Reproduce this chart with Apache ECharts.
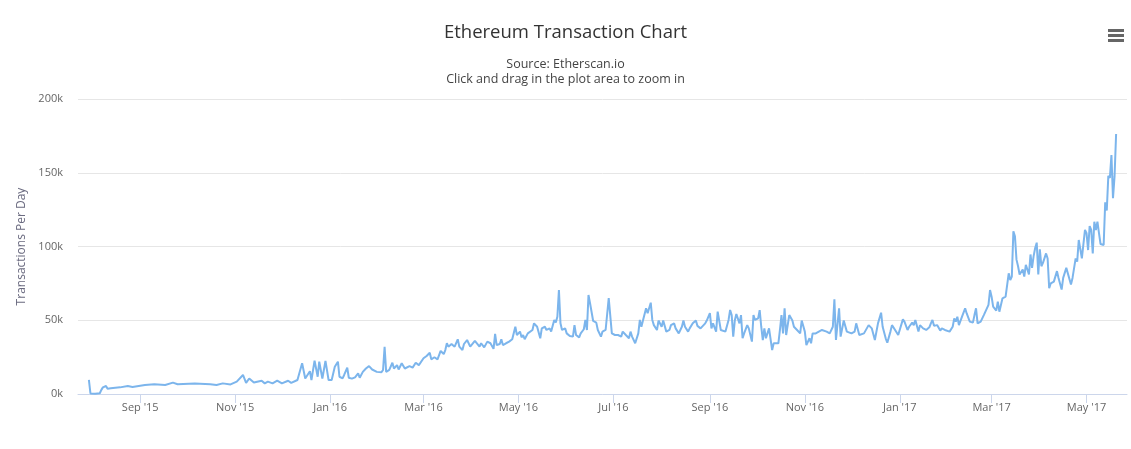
<!DOCTYPE html>
<html>
<head>
<meta charset="utf-8">
<script src="https://cdn.jsdelivr.net/npm/echarts@6/dist/echarts.min.js"></script>
<style>
  html, body { margin: 0; padding: 0; background: #fff; }
  #chart { width: 1131px; height: 449px; }
</style>
</head>
<body>
<div id="chart"></div>
<script>
// Daily transactions (thousands)
const dates = [
'2015-07-30','2015-07-31','2015-08-03','2015-08-06','2015-08-07','2015-08-08','2015-08-10','2015-08-11','2015-08-13','2015-08-19',
'2015-08-24','2015-08-27','2015-09-04','2015-09-10','2015-09-17','2015-09-22','2015-09-25','2015-10-06','2015-10-16','2015-10-20',
'2015-10-24','2015-10-29','2015-11-02','2015-11-06','2015-11-08','2015-11-10','2015-11-13','2015-11-18','2015-11-20','2015-11-22',
'2015-11-25','2015-11-28','2015-12-01','2015-12-05','2015-12-07','2015-12-11','2015-12-12','2015-12-14','2015-12-16','2015-12-19',
'2015-12-20','2015-12-22','2015-12-24','2015-12-25','2015-12-27','2015-12-29','2015-12-31',
'2016-01-02','2016-01-04','2016-01-06','2016-01-07','2016-01-09','2016-01-10','2016-01-12','2016-01-13','2016-01-15','2016-01-17',
'2016-01-19','2016-01-20','2016-01-22','2016-01-24','2016-01-26','2016-01-28','2016-01-31','2016-02-03','2016-02-04','2016-02-05',
'2016-02-06','2016-02-08','2016-02-10','2016-02-11','2016-02-13','2016-02-14','2016-02-16','2016-02-18','2016-02-21','2016-02-23',
'2016-02-25','2016-02-27','2016-03-01','2016-03-03','2016-03-05','2016-03-06','2016-03-08','2016-03-10','2016-03-12','2016-03-14',
'2016-03-15','2016-03-16','2016-03-17','2016-03-19','2016-03-21','2016-03-23','2016-03-24','2016-03-26','2016-03-27','2016-03-29',
'2016-03-31','2016-04-03','2016-04-04','2016-04-06','2016-04-07','2016-04-09','2016-04-11','2016-04-13','2016-04-15','2016-04-16',
'2016-04-17','2016-04-19','2016-04-20','2016-04-21','2016-04-23','2016-04-25','2016-04-27','2016-04-29','2016-04-30','2016-05-02',
'2016-05-03','2016-05-04','2016-05-05','2016-05-07','2016-05-08','2016-05-10','2016-05-11','2016-05-13','2016-05-15','2016-05-16',
'2016-05-18','2016-05-19','2016-05-21','2016-05-22','2016-05-24','2016-05-25','2016-05-26','2016-05-27','2016-05-28','2016-05-29',
'2016-05-31','2016-06-01','2016-06-03','2016-06-05','2016-06-06','2016-06-07','2016-06-09','2016-06-10','2016-06-12','2016-06-13',
'2016-06-14','2016-06-15','2016-06-16','2016-06-18','2016-06-20','2016-06-21','2016-06-22','2016-06-23','2016-06-24','2016-06-26',
'2016-06-28','2016-06-30','2016-07-02','2016-07-04','2016-07-06','2016-07-07','2016-07-09','2016-07-11','2016-07-12','2016-07-13',
'2016-07-15','2016-07-17','2016-07-18','2016-07-19','2016-07-20','2016-07-22','2016-07-23','2016-07-25','2016-07-26','2016-07-27',
'2016-07-29','2016-07-30','2016-08-01','2016-08-02','2016-08-04','2016-08-06','2016-08-07','2016-08-09','2016-08-10','2016-08-12',
'2016-08-14','2016-08-15','2016-08-16','2016-08-18','2016-08-19','2016-08-21','2016-08-23','2016-08-24','2016-08-26','2016-08-29',
'2016-08-30','2016-09-01','2016-09-02','2016-09-03','2016-09-05','2016-09-06','2016-09-08','2016-09-09','2016-09-11','2016-09-13',
'2016-09-14','2016-09-15','2016-09-16','2016-09-17','2016-09-18','2016-09-20','2016-09-21','2016-09-22','2016-09-23','2016-09-25',
'2016-09-26','2016-09-28','2016-09-29','2016-09-30','2016-10-02','2016-10-03','2016-10-04','2016-10-05','2016-10-06','2016-10-07',
'2016-10-09','2016-10-11','2016-10-12','2016-10-13','2016-10-15','2016-10-16','2016-10-17','2016-10-18','2016-10-19','2016-10-20',
'2016-10-22','2016-10-24','2016-10-25','2016-10-27','2016-10-29','2016-10-30','2016-11-01','2016-11-02','2016-11-04','2016-11-05',
'2016-11-06','2016-11-08','2016-11-10','2016-11-12','2016-11-13','2016-11-15','2016-11-17','2016-11-19','2016-11-20','2016-11-21',
'2016-11-23','2016-11-24','2016-11-26','2016-11-28','2016-12-01','2016-12-03','2016-12-04','2016-12-06','2016-12-07','2016-12-09',
'2016-12-12','2016-12-14','2016-12-16','2016-12-18','2016-12-20','2016-12-21','2016-12-23','2016-12-24','2016-12-26','2016-12-27',
'2016-12-29','2016-12-31',
'2017-01-01','2017-01-03','2017-01-04','2017-01-06','2017-01-07','2017-01-09','2017-01-10','2017-01-11','2017-01-13','2017-01-14',
'2017-01-16','2017-01-17','2017-01-18','2017-01-20','2017-01-21','2017-01-22','2017-01-23','2017-01-25','2017-01-27','2017-01-28',
'2017-01-30','2017-01-31','2017-02-02','2017-02-04','2017-02-05','2017-02-06','2017-02-07','2017-02-08','2017-02-10','2017-02-12',
'2017-02-13','2017-02-15','2017-02-17','2017-02-18','2017-02-19','2017-02-20','2017-02-22','2017-02-24','2017-02-25','2017-02-27',
'2017-02-28','2017-03-01','2017-03-02','2017-03-04','2017-03-05','2017-03-06','2017-03-08','2017-03-10','2017-03-11','2017-03-12',
'2017-03-13','2017-03-14','2017-03-15','2017-03-16','2017-03-17','2017-03-18','2017-03-19','2017-03-21','2017-03-22','2017-03-23',
'2017-03-24','2017-03-25','2017-03-26','2017-03-27','2017-03-28','2017-03-29','2017-03-30','2017-03-31','2017-04-01','2017-04-02',
'2017-04-03','2017-04-04','2017-04-05','2017-04-06','2017-04-07','2017-04-08','2017-04-10','2017-04-12','2017-04-13','2017-04-15',
'2017-04-16','2017-04-18','2017-04-19','2017-04-21','2017-04-22','2017-04-24','2017-04-25','2017-04-26','2017-04-27','2017-04-28',
'2017-04-30','2017-05-01','2017-05-02','2017-05-03','2017-05-04','2017-05-05','2017-05-06','2017-05-07','2017-05-08','2017-05-09',
'2017-05-10','2017-05-12','2017-05-13','2017-05-14','2017-05-15','2017-05-16','2017-05-17','2017-05-18','2017-05-19','2017-05-20'
];
const txK = [
9.5,0.4,0.2,0.5,2.8,4.5,5.4,3.6,3.9,4.5,
5.4,4.8,6.1,6.6,6.1,7.7,6.6,7.2,6.6,6.1,
7.2,6.5,8.4,12.9,7.5,10.5,7.8,9.0,7.2,8.4,
7.2,9.0,7.2,9.0,7.5,9.5,8.4,20.8,10.5,15.4,
9.5,22.6,11.7,21.9,10.5,22.4,9.5,
9.5,18.5,21.9,11.7,10.6,12.9,17.8,11.0,10.4,11.3,
14.0,11.0,15.0,17.3,18.9,16.6,15.0,14.8,16.3,32.0,
15.0,16.3,21.2,17.3,19.6,16.6,20.8,17.3,18.9,17.9,
21.2,19.6,24.2,25.8,28.0,23.5,24.9,23.5,29.2,27.1,
29.8,34.4,32.1,33.9,32.1,37.1,32.1,29.8,33.9,36.6,
32.1,36.0,35.5,32.1,34.4,31.6,35.5,34.4,30.6,40.7,
33.2,33.9,37.1,33.2,34.4,35.5,37.1,45.6,40.0,42.3,
38.4,40.0,37.1,41.1,41.1,43.4,47.9,45.6,37.8,44.5,
45.6,43.4,44.5,42.3,50.2,48.4,52.4,70.5,47.9,43.4,
44.5,41.1,39.3,38.9,46.7,40.0,38.4,41.1,43.9,50.2,
43.4,67.1,61.5,49.5,48.4,43.4,44.5,38.9,42.3,43.4,
65.0,41.1,40.0,40.0,38.9,42.3,40.0,37.8,42.3,38.9,
34.4,41.1,50.2,45.6,49.8,58.1,54.8,61.9,50.2,46.7,
43.4,49.8,45.6,49.8,42.3,43.4,46.7,47.9,44.5,41.1,
45.6,49.8,45.6,42.3,44.5,47.9,49.8,46.2,44.5,47.9,
49.8,54.8,44.5,47.9,42.3,55.8,43.4,44.5,42.3,50.2,
57.0,53.5,38.9,49.8,54.2,47.9,53.5,37.8,41.1,46.7,
44.5,35.5,53.5,50.2,51.3,56.9,45.6,36.6,44.5,37.8,
44.5,29.8,34.4,35.5,34.4,43.4,53.5,41.1,58.1,40.0,
53.5,49.8,45.6,43.4,41.1,49.8,42.3,33.2,37.8,34.4,
41.1,41.1,42.3,43.4,44.5,42.3,41.1,45.6,64.2,36.6,
58.1,38.9,49.8,42.3,41.1,42.3,47.9,40.0,41.1,41.1,
46.7,44.5,36.6,47.9,55.1,45.6,37.6,34.8,42.3,46.7,
43.4,40.0,
41.1,50.6,49.1,43.4,45.6,48.4,46.7,50.2,42.3,46.7,
44.5,45.6,43.4,45.2,47.9,50.2,46.2,46.7,43.0,44.5,
43.4,43.8,42.3,45.6,51.3,49.1,52.4,46.7,52.4,58.1,
54.6,49.1,48.4,53.5,58.1,47.9,49.1,53.5,52.4,60.4,
70.5,66.0,59.2,56.5,62.6,55.8,64.9,66.0,67.1,81.8,
77.3,79.6,110.3,106.9,91.1,86.6,81.0,84.4,79.6,87.5,
84.4,81.0,94.6,85.5,93.5,99.0,102.6,81.0,98.1,86.6,
88.9,87.7,95.3,91.9,71.7,75.0,76.2,83.3,78.7,70.8,
78.7,85.5,84.4,74.2,78.7,91.9,89.7,104.4,105.6,91.9,
111.2,109.0,97.6,113.9,111.2,95.3,116.8,111.2,116.8,109.0,
101.7,101.0,130.0,124.4,147.9,146.5,162.0,132.7,147.5,176.3
];
const tickDates = ['2015-09-01','2015-11-01','2016-01-01','2016-03-01','2016-05-01','2016-07-01',
                   '2016-09-01','2016-11-01','2017-01-01','2017-03-01','2017-05-01'];
const monthNames = ['Jan','Feb','Mar','Apr','May','Jun','Jul','Aug','Sep','Oct','Nov','Dec'];
const titleText = 'Ethereum Transaction Chart';
const subtitleLines = ['Source: Etherscan.io', 'Click and drag in the plot area to zoom in'];

const toTs = s => { const p = s.split('-').map(Number); return Date.UTC(p[0], p[1]-1, p[2]); };
const seriesData = dates.map((d, i) => [toTs(d), txK[i]]);
const tickTs = tickDates.map(toTs);

const FONT = '"Open Sans", "Noto Sans", sans-serif';
const subStyle = { fontFamily: FONT, fontSize: 12.5, fontWeight: 'normal', color: '#444444' };
const chart = echarts.init(document.getElementById('chart'), null, { renderer: 'canvas' });
chart.setOption({
  animation: false,
  backgroundColor: '#ffffff',
  textStyle: { fontFamily: FONT },
  title: [
    { text: titleText, left: 'center', top: 18,
      textStyle: { fontFamily: FONT, fontSize: 18.5, fontWeight: 'normal', color: '#333333' } },
    { text: subtitleLines[0], left: 'center', top: 53, textStyle: subStyle },
    { text: subtitleLines[1], left: 'center', top: 68, textStyle: subStyle }
  ],
  grid: { left: 78, right: 4, top: 99, bottom: 55, containLabel: false },
  xAxis: {
    type: 'value',
    min: toTs('2015-07-23'),
    max: toTs('2017-05-27'),
    axisLine: { show: true, onZero: false, lineStyle: { color: '#ccd6eb', width: 1 } },
    axisTick: { show: true, length: 9, inside: false, customValues: tickTs, lineStyle: { color: '#ccd6eb' } },
    axisLabel: {
      customValues: tickTs,
      color: '#666666', fontSize: 11, fontFamily: FONT, margin: 8,
      formatter: v => { const d = new Date(v); return monthNames[d.getUTCMonth()] + " '" + String(d.getUTCFullYear()).slice(2); }
    },
    splitLine: { show: false }
  },
  yAxis: {
    type: 'value',
    min: 0, max: 200, interval: 50,
    name: 'Transactions Per Day',
    nameLocation: 'middle',
    nameGap: 50,
    nameTextStyle: { color: '#6b6b80', fontSize: 12, fontFamily: FONT },
    axisLine: { show: false },
    axisTick: { show: false },
    axisLabel: { color: '#666666', fontSize: 11, fontFamily: FONT, margin: 15, formatter: v => v + 'k' },
    splitLine: { show: true, lineStyle: { color: '#e6e6e6', width: 1 } }
  },
  series: [{
    type: 'line',
    name: 'Transactions',
    data: seriesData,
    showSymbol: false,
    symbol: 'none',
    lineStyle: { color: '#7cb5ec', width: 2 },
    itemStyle: { color: '#7cb5ec' },
    smooth: false
  }],
  graphic: [
    { type: 'rect', shape: { x: 1108, y: 29, width: 16, height: 3 }, style: { fill: '#666666' } },
    { type: 'rect', shape: { x: 1108, y: 34, width: 16, height: 3 }, style: { fill: '#666666' } },
    { type: 'rect', shape: { x: 1108, y: 39, width: 16, height: 3 }, style: { fill: '#666666' } }
  ]
});
</script>
</body>
</html>
